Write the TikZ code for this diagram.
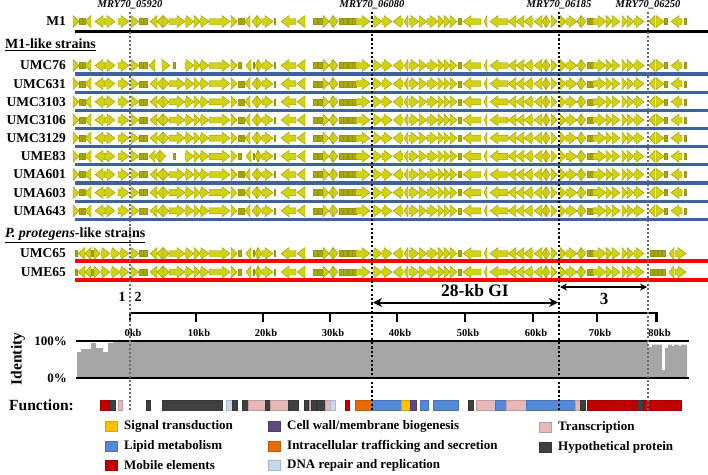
\documentclass[tikz,border=0pt]{standalone}
\usepackage{fontspec}
\setmainfont{Liberation Serif}
\usetikzlibrary{arrows.meta}
\definecolor{genefill}{RGB}{210,210,20}
\definecolor{genedraw}{RGB}{150,150,0}
\definecolor{boxfill}{RGB}{168,168,20}
\definecolor{rowblue}{RGB}{62,98,156}
\definecolor{rowred}{RGB}{255,0,0}
\definecolor{idgrey}{RGB}{166,166,166}
\definecolor{fMob}{RGB}{192,0,0}
\definecolor{fHyp}{RGB}{64,64,64}
\definecolor{fTra}{RGB}{230,185,184}
\definecolor{fDna}{RGB}{198,217,241}
\definecolor{fOrg}{RGB}{228,108,10}
\definecolor{fLip}{RGB}{85,137,214}
\definecolor{fSig}{RGB}{255,192,0}
\definecolor{fCel}{RGB}{96,74,123}
\tikzset{
  gene/.style={fill=genefill, draw=genedraw, line width=0.4pt},
  gbox/.style={fill=boxfill, draw=genedraw, line width=0.4pt},
  rowline/.style={line width=3.2pt},
  rowlabel/.style={anchor=east, font=\bfseries\fontsize{13.5}{14}\selectfont, inner sep=0pt},
  mrylabel/.style={font=\bfseries\itshape\fontsize{10.5}{12}\selectfont, inner sep=0pt},
  kblabel/.style={font=\bfseries\fontsize{10.5}{12}\selectfont, inner sep=0pt},
  legtext/.style={anchor=west, font=\bfseries\fontsize{13}{14}\selectfont, inner sep=0pt},
  blkdot/.style={line width=2.4pt, dash pattern=on 2.2pt off 2.2pt},
  grydot/.style={line width=2pt, gray!85!black, dash pattern=on 2pt off 2pt},
}
\newcommand\gR[2]{\pgfmathsetmacro\gHB{max(#1,#2-8)}%
  \filldraw[gene] (#1,\gy-3) -- (\gHB,\gy-3) -- (\gHB,\gy-6) -- (#2,\gy) -- (\gHB,\gy+6) -- (\gHB,\gy+3) -- (#1,\gy+3) -- cycle;}
\newcommand\gL[2]{\pgfmathsetmacro\gHB{min(#2,#1+8)}%
  \filldraw[gene] (#2,\gy-3) -- (\gHB,\gy-3) -- (\gHB,\gy-6) -- (#1,\gy) -- (\gHB,\gy+6) -- (\gHB,\gy+3) -- (#2,\gy+3) -- cycle;}
\newcommand\gB[2]{\filldraw[gbox] (#1,\gy-3) rectangle (#2,\gy+3);}
% segments of the gene map
\newcommand\segA{\gR{73}{79}\gB{79.5}{82}\gB{82.5}{85}\gL{85}{91}\gL{95}{105}\gR{105}{115}\gR{118}{129}}
\newcommand\segAp{\gB{75}{77}\gL{78}{85}\gL{85}{91}\gB{91}{93}\gR{94}{100}\gR{101}{110}\gR{111}{120}\gR{120}{129}}
\newcommand\segB{\gR{131}{139}\gB{139.5}{143}\gB{143.5}{147}\gL{150}{157}\gL{157}{163}\gR{163}{169}\gR{169}{185}}
\newcommand\segBa{\gR{131}{139}\gB{139.5}{143}\gB{143.5}{147}\gL{149}{155}\gR{162}{170}\gB{173}{175}}
\newcommand\segBb{\gR{131}{139}\gB{139.5}{143}\gB{143.5}{147}\gL{149}{155}\gL{155}{160}\gR{160}{166}\gB{173}{175}}
\newcommand\segC{\gR{185}{194}\gR{194}{200}\gR{200}{209}\gR{209}{230}}
\newcommand\segD{\gR{231}{237}\gB{238}{241}\gB{241.5}{244}\gL{245}{250}\gL{252}{257}\gR{257}{262}\gR{262}{273}\gB{274}{275.5}\gL{281}{296}\gL{297}{305}}
\newcommand\segDa{\gR{231}{237}\gB{238}{241}\gL{246}{251}\gB{253}{254.5}\gL{255}{258}\gR{258}{262}\gR{262}{273}\gB{274}{275.5}\gL{281}{296}\gL{297}{305}}
\newcommand\segE{\gB{313}{317}\gB{318}{322}\gR{323}{329}\gL{329}{333}\gR{333}{338}\gB{339}{343}\gB{343.5}{347.5}\gB{348}{352}\gB{352.5}{356}\gR{356}{370}}
\newcommand\segF{\gR{373}{382}\gR{382}{392}\gL{393}{403}\gL{404}{408}\gR{409}{419}\gR{419}{427}\gR{427}{438}\gR{438}{444}\gR{444}{450}\gR{450}{457}\gB{458}{461}\gL{463}{481}\gL{484}{487}\gL{490}{508}\gL{508}{516}\gL{516}{524}}
\newcommand\segG{\gL{524}{533}\gL{534}{542}\gL{542}{546}\gR{546}{550}\gR{551}{557}}
\newcommand\segH{\gR{560}{566}\gR{566}{577}\gL{577}{581}\gR{581}{586}\gB{587}{590}\gB{590}{593}\gR{593}{606}\gR{606}{612}\gR{612}{620}\gR{622}{627}\gR{627}{634}\gR{634}{644}}
\newcommand\segI{\gL{649}{655}\gR{656}{664}\gB{664.5}{667}\gL{671}{682}\gB{684}{686}}
\newcommand\segIp{\gB{650}{653}\gB{654}{657}\gB{658}{661}\gB{662}{665}\gL{669}{674}\gR{675}{686}}
\begin{document}
\begin{tikzpicture}[x=1pt,y=-1pt]
\useasboundingbox (0,0) rectangle (708,474);
% ---------- M1 ----------
\draw[rowline, black] (75,31.5) -- (708,31.5);
\def\gy{21.5}\segA\segB\segC\segD\segE\segF\segG\segH\segI
\node[rowlabel] (lM1) at (66,21.5) {M1};
% ---------- group header ----------
\node[anchor=west, font=\bfseries\fontsize{14}{16}\selectfont, inner sep=0pt] (hM1) at (5,45) {\underline{M1-like strains}};
% ---------- M1-like rows ----------
\foreach \ly in {74,92.2,110.3,128.5,146.6,164.8,183,201.1,219.3}{
  \draw[rowline, rowblue] (75,\ly) -- (708,\ly);
}
\def\gy{65.5}\segA\segBa\segC\segDa\segE\segF\segG\segH\segI
\def\gy{83.7}\segA\segB\segC\segD\segE\segF\segG\segH\segI
\def\gy{101.8}\segA\segB\segC\segD\segE\segF\segG\segH\segI
\def\gy{120}\segA\segB\segC\segD\segE\segF\segG\segH\segI
\def\gy{138.1}\segA\segB\segC\segD\segE\segF\segG\segH\segI
\def\gy{156.3}\segA\segBb\segC\segDa\segE\segF\segG\segH\segI
\def\gy{174.5}\segA\segB\segC\segD\segE\segF\segG\segH\segI
\def\gy{192.6}\segA\segB\segC\segD\segE\segF\segG\segH\segI
\def\gy{210.8}\segA\segB\segC\segD\segE\segF\segG\segH\segI
\node[rowlabel] (l1) at (66,65.5) {UMC76};
\node[rowlabel] (l2) at (66,83.7) {UMC631};
\node[rowlabel] (l3) at (66,101.8) {UMC3103};
\node[rowlabel] (l4) at (66,120) {UMC3106};
\node[rowlabel] (l5) at (66,138.1) {UMC3129};
\node[rowlabel] (l6) at (66,156.3) {UME83};
\node[rowlabel] (l7) at (66,174.5) {UMA601};
\node[rowlabel] (l8) at (66,192.6) {UMA603};
\node[rowlabel] (l9) at (66,210.8) {UMA643};
% ---------- P. protegens ----------
\node[anchor=west, font=\bfseries\fontsize{14}{16}\selectfont, inner sep=0pt] (hPp) at (5,235) {\underline{\textit{P. protegens}-like strains}};
\draw[rowline, rowred] (75,261) -- (708,261);
\draw[rowline, rowred] (75,280) -- (708,280);
\def\gy{253.5}\segAp\segB\segC\segDa\segE\segF\segG\segH\segIp
\def\gy{272}\segAp\segB\segC\segDa\segE\segF\segG\segH\segIp
\node[rowlabel] (l10) at (66,253.5) {UMC65};
\node[rowlabel] (l11) at (66,272) {UME65};
% ---------- locus tags ----------
\node[mrylabel] (m1) at (130,5) {MRY70\_05920};
\node[mrylabel] (m2) at (372,5) {MRY70\_06080};
\node[mrylabel] (m3) at (559,5) {MRY70\_06185};
\node[mrylabel] (m4) at (648,5) {MRY70\_06250};
% ---------- region arrows ----------
\coordinate (gA) at (373,302.5);
\coordinate (gB) at (558,302.5);
\draw[line width=2pt, {Stealth[length=9pt,width=9pt]}-{Stealth[length=9pt,width=9pt]}] (gA) -- (gB);
\node[font=\bfseries\fontsize{17.5}{19}\selectfont, inner sep=0pt] (gi) at (475,291) {28-kb GI};
\coordinate (tA) at (560,287);
\coordinate (tB) at (647,287);
\draw[line width=1.5pt, {Stealth[length=7pt,width=7pt]}-{Stealth[length=7pt,width=7pt]}] (tA) -- (tB);
\node[font=\bfseries\fontsize{17}{19}\selectfont, inner sep=0pt] (r3) at (604,299) {3};
\node[font=\bfseries\fontsize{14}{16}\selectfont, inner sep=0pt] (r1) at (122,297) {1};
\node[font=\bfseries\fontsize{14}{16}\selectfont, inner sep=0pt] (r2) at (138,297) {2};
% ---------- kb scale ----------
\coordinate (s0) at (129,313);
\coordinate (s1) at (658,313);
\draw[line width=2.6pt] (s0) -- (s1);
\foreach \tx/\tl in {130/0kb,196/10kb,263/20kb,330/30kb,397/40kb,465/50kb,533/60kb,597/70kb,656.5/80kb}{
  \draw[line width=2.6pt] (\tx,312) -- (\tx,322);
  \node[kblabel] at (\tx+3,333) {\tl};
}
% ---------- identity ----------
\fill[idgrey] (77,377) -- (77,352) -- (81,352) -- (81,349) -- (91,349) -- (91,343) -- (96,343) -- (96,348) -- (103,348) -- (103,352) -- (108,352) -- (108,343) -- (113,343) -- (113,342) -- (648,342) -- (648,347) -- (652,347) -- (652,344.5) -- (662,344.5) -- (662,370) -- (665,370) -- (665,348) -- (668,348) -- (668,344.5) -- (672,344.5) -- (672,346) -- (674,346) -- (674,344.5) -- (679,344.5) -- (679,346) -- (681,346) -- (681,344.5) -- (687,344.5) -- (687,377) -- cycle;
\draw[line width=2.6pt] (76,341) -- (689,341);
\draw[line width=2.6pt] (76,378) -- (689,378);
\node[rotate=90, font=\bfseries\fontsize{15.5}{17}\selectfont, inner sep=0pt] (idl) at (18,359) {Identity};
\node[anchor=east, font=\bfseries\fontsize{13}{15}\selectfont, inner sep=0pt] (p100) at (67,341) {100\%};
\node[anchor=east, font=\bfseries\fontsize{13}{15}\selectfont, inner sep=0pt] (p0) at (67,378) {0\%};
% ---------- function bar ----------
\node[anchor=west, font=\bfseries\fontsize{15.5}{17}\selectfont, inner sep=0pt] (fn) at (9,405) {Function:};
\foreach \a/\b/\c in {100.7/110/fMob,110.7/115/fHyp,118.3/122.7/fTra,146.7/150.7/fHyp,162.7/222.7/fHyp,226/232/fDna,232.3/237.3/fHyp,242.3/248.3/fHyp,248.3/265/fTra,265/270/fHyp,270/288.3/fTra,288.3/298.3/fHyp,304/308.3/fHyp,309.3/311.7/fTra,311.7/316/fHyp,317.3/325/fHyp,325/330/fTra,330/335/fDna,345/349.3/fMob,355/372/fOrg,372/401.7/fLip,401.7/410.7/fSig,410.7/416.7/fCel,420/428.3/fLip,433.3/458.3/fLip,468.3/473.3/fHyp,476/495/fTra,495/506.7/fLip,506.7/526.7/fTra,526.7/575/fLip,575/580/fTra,580/585/fHyp,587.3/637.3/fMob,637.3/643.3/fHyp,643.3/681.7/fMob}{
  \filldraw[fill=\c, draw=\c!85!black, line width=0.5pt] (\a,400) rectangle (\b,410);
}
% ---------- dotted guide lines ----------
\draw[grydot] (130,12) -- (130,412);
\draw[grydot] (648,12) -- (648,412);
\draw[blkdot] (372,12) -- (372,412);
\draw[blkdot] (559,12) -- (559,412);
% ---------- legend ----------
\foreach \sx/\sy/\c/\t in {105/426/fSig/Signal transduction,105/446/fLip/Lipid metabolism,105/465.5/fMob/Mobile elements,268/426/fCel/Cell wall\slash membrane biogenesis,268/446/fOrg/Intracellular trafficking and secretion,268/465.5/fDna/DNA repair and replication,539/427/fTra/Transcription,539/447/fHyp/Hypothetical protein}{
  \filldraw[fill=\c, draw=\c!85!black, line width=0.5pt] (\sx,\sy-5) rectangle (\sx+12,\sy+5);
  \node[legtext] at (\sx+19,\sy) {\t};
}
\end{tikzpicture}
\end{document}
